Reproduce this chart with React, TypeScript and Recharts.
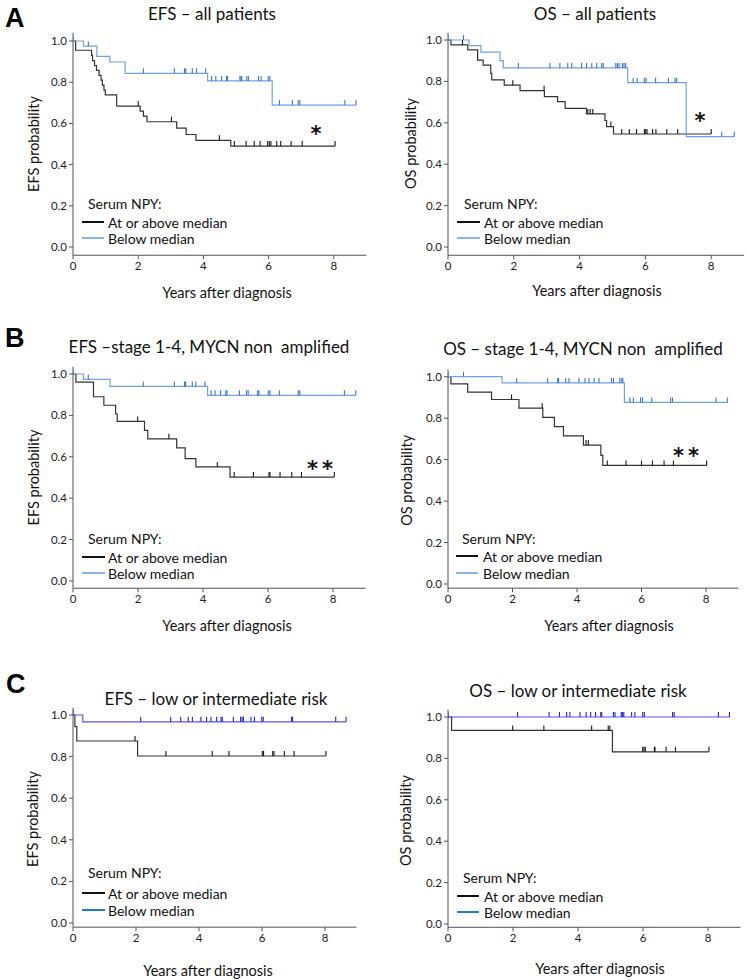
import React from 'react';
import { ComposedChart, Line, Scatter, XAxis, YAxis, ReferenceDot } from 'recharts';

// Kaplan-Meier step data: [years, survival probability] at each event, last pair = end of follow-up
const efsAllHigh = [[0, 1], [0.08, 0.955], [0.57, 0.93], [0.6, 0.905], [0.66, 0.88], [0.72, 0.857], [0.8, 0.833], [0.86, 0.81], [0.9, 0.786], [0.95, 0.762], [0.99, 0.738], [1.34, 0.684], [2.06, 0.66], [2.16, 0.635], [2.27, 0.608], [3.18, 0.577], [3.47, 0.546], [3.77, 0.518], [4.84, 0.49], [8.04, 0.49]];
const efsAllLow = [[0, 1], [0.32, 0.975], [0.73, 0.925], [1.13, 0.898], [1.6, 0.843], [4.13, 0.806], [6.11, 0.689], [8.68, 0.689]];
const efsAllHighCens = [2.0, 3.02, 4.49, 4.95, 5.31, 5.56, 5.74, 5.97, 6.02, 6.07, 6.25, 6.37, 6.69, 7.03, 8.04];
const efsAllLowCens = [0, 0.47, 2.16, 3.11, 3.42, 3.46, 3.66, 3.79, 4.07, 4.25, 4.38, 4.56, 4.71, 4.74, 5.12, 5.15, 5.18, 5.33, 5.38, 5.69, 5.77, 5.99, 6.04, 6.33, 6.73, 6.91, 6.96, 8.34, 8.68];

const osAllHigh = [[0, 1], [0.09, 0.976], [0.6, 0.952], [0.9, 0.903], [1.07, 0.879], [1.3, 0.839], [1.33, 0.807], [1.71, 0.782], [2.19, 0.755], [2.93, 0.726], [3.33, 0.702], [3.56, 0.67], [4.21, 0.643], [4.77, 0.611], [4.82, 0.582], [5.03, 0.546], [8.0, 0.546]];
const osAllLow = [[0, 1], [0.64, 0.973], [1.0, 0.941], [1.58, 0.9], [1.68, 0.865], [5.46, 0.794], [7.24, 0.533], [8.7, 0.533]];
const osAllHighCens = [0.44, 1.97, 2.92, 4.25, 4.32, 4.4, 4.95, 5.28, 5.51, 5.73, 5.97, 6.01, 6.05, 6.22, 6.32, 6.65, 6.98, 8.0];
const osAllLowCens = [0, 0.47, 2.14, 3.1, 3.4, 3.64, 3.76, 4.06, 4.21, 4.37, 4.52, 4.67, 4.72, 5.1, 5.15, 5.2, 5.3, 5.35, 5.4, 5.63, 5.75, 5.97, 6.02, 6.31, 6.7, 6.9, 6.95, 8.32, 8.7];

const efsStageHigh = [[0, 1], [0.09, 0.961], [0.63, 0.89], [0.95, 0.849], [1.31, 0.808], [1.36, 0.771], [2.2, 0.728], [2.3, 0.687], [3.19, 0.643], [3.45, 0.591], [3.78, 0.551], [4.83, 0.502], [8.04, 0.502]];
const efsStageLow = [[0, 1], [0.32, 0.974], [1.14, 0.94], [4.14, 0.897], [8.71, 0.897]];
const efsStageHighCens = [1.99, 2.95, 4.44, 4.96, 5.55, 6.03, 6.06, 6.37, 6.73, 7.03, 8.04];
const efsStageLowCens = [0, 0.47, 2.16, 3.12, 3.43, 3.46, 3.67, 3.78, 4.06, 4.25, 4.37, 4.54, 4.7, 4.74, 5.12, 5.34, 5.39, 5.68, 5.72, 6.01, 6.06, 6.35, 6.93, 6.98, 8.35, 8.7];

const osStageHigh = [[0, 1], [0.09, 0.965], [0.61, 0.926], [1.35, 0.89], [2.2, 0.848], [2.94, 0.804], [3.3, 0.759], [3.58, 0.715], [4.2, 0.67], [4.74, 0.62], [4.8, 0.572], [8.02, 0.572]];
const osStageLow = [[0, 1], [1.68, 0.97], [5.47, 0.876], [8.67, 0.876]];
const osStageHighCens = [1.97, 2.92, 4.28, 4.35, 4.94, 5.52, 6.0, 6.34, 6.7, 6.99, 8.02];
const osStageLowCens = [0, 0.48, 2.13, 3.09, 3.4, 3.43, 3.65, 3.75, 4.06, 4.25, 4.37, 4.53, 4.68, 5.07, 5.13, 5.33, 5.39, 5.42, 5.64, 5.75, 5.97, 6.03, 6.32, 6.9, 6.96, 8.31, 8.66];

const efsRiskHigh = [[0, 1], [0.06, 0.944], [0.12, 0.875], [2.05, 0.803], [8.03, 0.803]];
const efsRiskLow = [[0, 1], [0.31, 0.967], [8.67, 0.967]];
const efsRiskHighCens = [1.97, 2.95, 4.42, 4.95, 6.01, 6.05, 6.34, 6.38, 6.71, 7.02, 8.03];
const efsRiskLowCens = [0, 2.15, 3.1, 3.42, 3.66, 3.79, 4.06, 4.24, 4.38, 4.56, 4.7, 4.74, 5.09, 5.32, 5.37, 5.41, 5.65, 5.76, 5.99, 6.04, 6.94, 6.97, 8.34, 8.67];

const osRiskHigh = [[0, 1], [0.11, 0.935], [5.06, 0.832], [8.03, 0.832]];
const osRiskLow = [[0, 1], [8.68, 1]];
const osRiskHighCens = [1.99, 2.95, 4.42, 4.93, 4.98, 5.99, 6.03, 6.07, 6.35, 6.37, 6.71, 7.0, 8.03];
const osRiskLowCens = [0, 2.14, 3.11, 3.43, 3.65, 3.75, 4.06, 4.25, 4.39, 4.54, 4.7, 4.73, 5.09, 5.14, 5.33, 5.37, 5.41, 5.65, 5.75, 5.99, 6.04, 6.91, 6.96, 8.32, 8.66];

const TIME_TICKS = [0, 2, 4, 6, 8];
const PROB_TICKS = [0, 0.2, 0.4, 0.6, 0.8, 1.0];
const LEGEND_TITLE = 'Serum NPY:';
const LEGEND_HIGH = 'At or above median';
const LEGEND_LOW = 'Below median';
const X_LABEL = 'Years after diagnosis';

const FONT = 'Lato, "Noto Sans", sans-serif';
const AXIS = '#4d535e';

const toPts = (steps: number[][]) => steps.map(([t, s]) => ({ t, s }));
const survAt = (steps: number[][], t: number) => {
  let s = steps[0][1];
  steps.forEach(([tt, ss]) => { if (tt <= t) s = ss; });
  return s;
};
const censPts = (steps: number[][], cens: number[]) => cens.map(t => ({ t, s: survAt(steps, t) }));

const blueAB = { line: '#6fa2e6', tick: '#3b74d6', legend: '#8ab5ea' };
const blueC = { line: '#5656f2', tick: '#2424dc', legend: '#1f7bd4' };

const panels = [
  { letter: 'A', letterX: 5, letterY: 27, title: 'EFS – all patients', titleX: 212, titleY: 20, yLabel: 'EFS probability',
    high: efsAllHigh, low: efsAllLow, highCens: efsAllHighCens, lowCens: efsAllLowCens, blue: blueAB, star: '*', starAt: [7.45, 0.568],
    px: 0, py: 0, w: 370, h: 310, x0: 73, ppy: 32.6, y1: 41, y0: 247, padTop: 0.04, padBottom: 0.04,
    yLabX: 33, xLabX: 227, xLabY: 292, leg: { tx: 88, ty: 203, lx1: 82, lx2: 104, textX: 108, r1: 222, r2: 238 } },
  { title: 'OS – all patients', titleX: 595, titleY: 20, yLabel: 'OS probability',
    high: osAllHigh, low: osAllLow, highCens: osAllHighCens, lowCens: osAllLowCens, blue: blueAB, star: '*', starAt: [7.66, 0.628],
    px: 370, py: 0, w: 377, h: 310, x0: 448, ppy: 32.9, y1: 40, y0: 247, padTop: 0.035, padBottom: 0.04,
    yLabX: 410, xLabX: 597, xLabY: 290, leg: { tx: 464, ty: 203, lx1: 457, lx2: 480, textX: 484, r1: 222, r2: 238 } },
  { letter: 'B', letterX: 5, letterY: 347, title: 'EFS –stage 1-4, MYCN non  amplified', titleX: 209, titleY: 353, yLabel: 'EFS probability',
    high: efsStageHigh, low: efsStageLow, highCens: efsStageHighCens, lowCens: efsStageLowCens, blue: blueAB, star: '**', starAt: [7.66, 0.56],
    px: 0, py: 320, w: 370, h: 310, x0: 73, ppy: 32.5, y1: 374, y0: 581, padTop: 0.035, padBottom: 0.035,
    yLabX: 33, xLabX: 227, xLabY: 625, leg: { tx: 88, ty: 538, lx1: 82, lx2: 105, textX: 108, r1: 557, r2: 573 } },
  { title: 'OS – stage 1-4, MYCN non  amplified', titleX: 583, titleY: 355, yLabel: 'OS probability',
    high: osStageHigh, low: osStageLow, highCens: osStageHighCens, lowCens: osStageLowCens, blue: blueAB, star: '**', starAt: [7.44, 0.638],
    px: 370, py: 320, w: 377, h: 310, x0: 448, ppy: 32.25, y1: 376.7, y0: 584, padTop: 0.035, padBottom: 0.02,
    yLabX: 407, xLabX: 609, xLabY: 625, leg: { tx: 462, ty: 538, lx1: 456, lx2: 478, textX: 483, r1: 556, r2: 573 } },
  { letter: 'C', letterX: 6, letterY: 693, title: 'EFS – low or intermediate risk', titleX: 216, titleY: 705, yLabel: 'EFS probability',
    high: efsRiskHigh, low: efsRiskLow, highCens: efsRiskHighCens, lowCens: efsRiskLowCens, blue: blueC,
    px: 0, py: 640, w: 370, h: 340, x0: 73, ppy: 31.5, y1: 715, y0: 923, padTop: 0.035, padBottom: 0.02,
    yLabX: 32, xLabX: 208, xLabY: 970, leg: { tx: 88, ty: 872, lx1: 82, lx2: 105, textX: 108, r1: 893, r2: 910 } },
  { title: 'OS – low or intermediate risk', titleX: 578, titleY: 697, yLabel: 'OS probability',
    high: osRiskHigh, low: osRiskLow, highCens: osRiskHighCens, lowCens: osRiskLowCens, blue: blueC,
    px: 370, py: 640, w: 377, h: 340, x0: 448, ppy: 32.5, y1: 717, y0: 924, padTop: 0.035, padBottom: 0.016,
    yLabX: 405, xLabX: 600, xLabY: 968, leg: { tx: 463, ty: 877, lx1: 457, lx2: 479, textX: 484, r1: 896, r2: 912 } },
];

const tickShape = (color: string) => (p: any) => (
  <line x1={p.cx} x2={p.cx} y1={p.cy - 5} y2={p.cy} stroke={color} strokeWidth={1.1} />
);

const Y_AXIS_W = 40;
const X_AXIS_H = 25;

function KMPanel({ p }: { p: any }) {
  const span = p.y0 - p.y1;
  const plotTop = p.y1 - p.padTop * span;
  const plotBottom = p.y0 + p.padBottom * span;
  const plotRight = p.x0 + 9 * p.ppy;
  const margin = {
    top: plotTop - p.py,
    left: p.x0 - p.px - Y_AXIS_W,
    right: p.px + p.w - plotRight,
    bottom: p.py + p.h - plotBottom - X_AXIS_H,
  };
  return (
    <div style={{ position: 'absolute', left: p.px, top: p.py, width: p.w, height: p.h }}>
      <ComposedChart width={p.w} height={p.h} margin={margin} style={{ fontFamily: FONT }}>
        <XAxis type="number" dataKey="t" domain={[0, 9]} allowDataOverflow ticks={TIME_TICKS} height={X_AXIS_H}
          stroke={AXIS} tickSize={4} tickMargin={3} tick={{ fontSize: 11.5, fill: '#222' }} />
        <YAxis type="number" domain={[-p.padBottom, 1 + p.padTop]} allowDataOverflow ticks={PROB_TICKS} width={Y_AXIS_W}
          stroke={AXIS} tickSize={4} tickMargin={2} tick={{ fontSize: 11.5, fill: '#222' }} tickFormatter={(v: number) => v.toFixed(1)} />
        <Line data={toPts(p.high)} dataKey="s" type="stepAfter" stroke="#333" strokeWidth={1.2} dot={false} activeDot={false} isAnimationActive={false} />
        <Line data={toPts(p.low)} dataKey="s" type="stepAfter" stroke={p.blue.line} strokeWidth={1.2} dot={false} activeDot={false} isAnimationActive={false} />
        <Scatter data={censPts(p.high, p.highCens)} dataKey="s" shape={tickShape('#1a1a1a')} isAnimationActive={false} />
        <Scatter data={censPts(p.low, p.lowCens)} dataKey="s" shape={tickShape(p.blue.tick)} isAnimationActive={false} />
        {p.star && (
          <ReferenceDot x={p.starAt[0]} y={p.starAt[1]} r={0.5} fill="none" stroke="none"
            label={({ viewBox }: any) => (
              <text x={viewBox.x + viewBox.width / 2} y={viewBox.y + viewBox.height / 2} dy="0.52em" textAnchor="middle"
                fontSize={21} fontWeight="bold" fill="#111" letterSpacing={p.star.length > 1 ? 4 : 0}
                fontFamily='"DejaVu Sans", sans-serif'>{p.star}</text>
            )} />
        )}
      </ComposedChart>
    </div>
  );
}

export default function App() {
  return (
    <div style={{ position: 'absolute', left: 0, top: 0, width: 747, height: 980, background: '#fff', fontFamily: FONT }}>
      {panels.map((p, i) => <KMPanel key={i} p={p} />)}
      <svg width={747} height={980} style={{ position: 'absolute', left: 0, top: 0, pointerEvents: 'none' }} fontFamily={FONT}>
        {panels.map((p: any, i) => {
          const yMid = (p.y0 + p.y1) / 2;
          return (
            <g key={i}>
              {p.letter && (
                <text x={p.letterX} y={p.letterY} fontSize={27} fontWeight="bold" fontFamily='"Liberation Sans", Arial, sans-serif' fill="#000">{p.letter}</text>
              )}
              <text x={p.titleX} y={p.titleY} fontSize={17} textAnchor="middle" fill="#111" style={{ whiteSpace: 'pre' }}>{p.title}</text>
              <text x={p.yLabX} y={yMid} fontSize={14.5} textAnchor="middle" dominantBaseline="central" fill="#111"
                transform={`rotate(-90 ${p.yLabX} ${yMid})`}>{p.yLabel}</text>
              <text x={p.xLabX} y={p.xLabY} fontSize={14.5} textAnchor="middle" dominantBaseline="central" fill="#111">{X_LABEL}</text>
              <text x={p.leg.tx} y={p.leg.ty} fontSize={14} dominantBaseline="central" fill="#111">{LEGEND_TITLE}</text>
              <line x1={p.leg.lx1} x2={p.leg.lx2} y1={p.leg.r1} y2={p.leg.r1} stroke="#111" strokeWidth={2} />
              <text x={p.leg.textX} y={p.leg.r1} fontSize={14} dominantBaseline="central" fill="#111">{LEGEND_HIGH}</text>
              <line x1={p.leg.lx1} x2={p.leg.lx2} y1={p.leg.r2} y2={p.leg.r2} stroke={p.blue.legend} strokeWidth={2} />
              <text x={p.leg.textX} y={p.leg.r2} fontSize={14} dominantBaseline="central" fill="#111">{LEGEND_LOW}</text>
            </g>
          );
        })}
      </svg>
    </div>
  );
}
